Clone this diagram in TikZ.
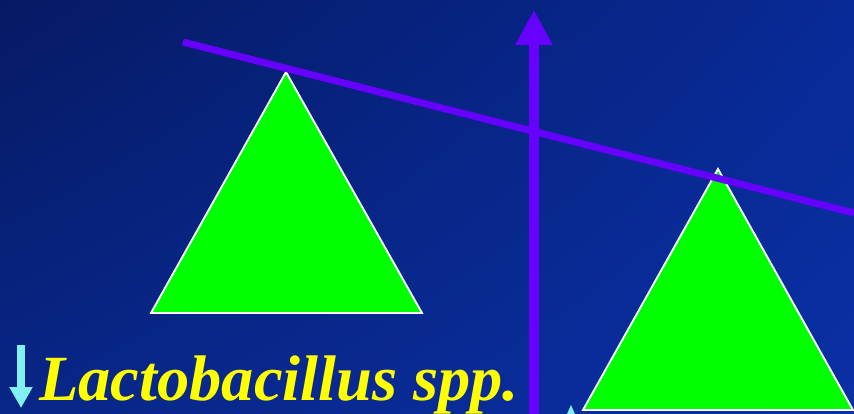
\documentclass[tikz,border=0pt]{standalone}
\usepackage{fontspec}
\setmainfont{Liberation Serif}
\usepackage{xcolor}
\usetikzlibrary{arrows.meta,shadings}
\definecolor{bgdark}{RGB}{6,26,100}
\definecolor{bgtr}{RGB}{8,42,150}
\definecolor{bgbl}{RGB}{8,38,135}
\definecolor{bgbright}{RGB}{10,48,165}
\definecolor{beampurple}{RGB}{102,0,255}
\definecolor{weightgreen}{RGB}{0,255,0}
\definecolor{lactoyellow}{RGB}{255,255,0}
\definecolor{downcyan}{RGB}{128,240,240}
\tikzset{
  weight/.style={fill=weightgreen, draw=white, line width=1.6pt, line join=miter},
  beam/.style={draw=beampurple, line width=6pt},
  pivot/.style={-{Triangle[length=1.05cm, width=1.05cm]}, draw=beampurple, fill=beampurple, line width=0.3cm},
  down/.style={-{Triangle[length=0.63cm, width=0.66cm]}, draw=downcyan, fill=downcyan, line width=0.24cm},
  label/.style={text=lactoyellow, font=\fontsize{55}{62}\selectfont\bfseries\itshape, inner sep=0pt, anchor=base west},
}
\begin{document}
\begin{tikzpicture}[x=0.03cm, y=-0.03cm]
  % background
  \shade[upper left=bgdark, upper right=bgtr, lower left=bgbl, lower right=bgbright] (0,0) rectangle (854,414);
  \useasboundingbox (0,0) rectangle (854,414);
  % the two weights
  \draw[weight] (286,72) coordinate (lefttop) -- (422,313) -- (151,313) -- cycle;
  \draw[weight] (718,169) coordinate (righttop) -- (853,410) -- (583,410) -- cycle;
  % pivot arrow and tilted beam
  \coordinate (pivotbase) at (534,414);
  \coordinate (pivottip) at (534,10);
  \draw[pivot] (pivotbase) -- (pivottip);
  \coordinate (beamleft) at (183,42);
  \coordinate (beamright) at (854,213);
  \draw[beam] (beamleft) -- (beamright);
  % small tip at the bottom
  \fill[downcyan] (571,405) -- (575,414) -- (567,414) -- cycle;
  % label
  \coordinate (downtop) at (21,345);
  \coordinate (downtip) at (21,408);
  \draw[down] (downtop) -- (downtip);
  \node[label] (lacto) at (39,400) {Lactobacillus spp.};
\end{tikzpicture}
\end{document}
